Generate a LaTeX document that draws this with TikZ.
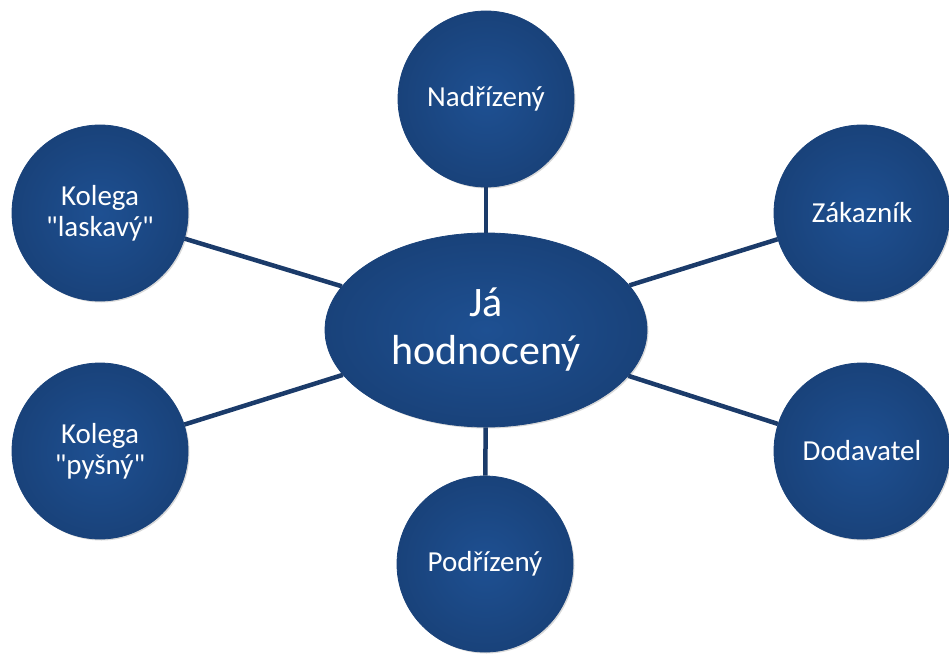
\documentclass[tikz,border=0pt]{standalone}
\usepackage{fontspec}
\setmainfont{Carlito}
\usepackage{tikz}
\usepackage{xcolor}
\usetikzlibrary{shapes.geometric,shadows}
\definecolor{nodeblue}{RGB}{30,80,146}
\definecolor{nodeblue-rim}{RGB}{25,66,122}
\definecolor{linkblue}{RGB}{27,59,106}
\tikzset{
    person-circle/.style = {circle, minimum size=176pt, inner sep=0pt, draw=nodeblue-rim, line width=0.8pt,
        inner color=nodeblue, outer color=nodeblue-rim, text=white, align=center,
        font=\fontsize{29}{31}\selectfont,
        drop shadow={shadow xshift=1.5pt, shadow yshift=-1.5pt, opacity=0.3}},
    self-ellipse/.style = {ellipse, minimum width=322pt, minimum height=194pt, inner sep=0pt, draw=nodeblue-rim, line width=0.8pt,
        inner color=nodeblue, outer color=nodeblue-rim, text=white, align=center,
        font=\fontsize{42}{48}\selectfont,
        drop shadow={shadow xshift=1.5pt, shadow yshift=-1.5pt, opacity=0.3}},
    link-line/.style = {draw=linkblue, line width=4.5pt},
}
\begin{document}
\begin{tikzpicture}[x=1pt, y=-1pt]
\useasboundingbox (0,0) rectangle (949,655);
\node [self-ellipse] (self) at (486,330) {Já\\hodnocený};
\node [person-circle] (boss) at (486,99) {Nadřízený};
\node [person-circle] (subordinate) at (485,564) {Podřízený};
\node [person-circle] (kind-colleague) at (100,213) {Kolega\\\textquotedbl laskavý\textquotedbl};
\node [person-circle] (proud-colleague) at (100,451) {Kolega\\\textquotedbl pyšný\textquotedbl};
\node [person-circle] (customer) at (862,213) {Zákazník};
\node [person-circle] (supplier) at (862,451) {Dodavatel};
% connectors
\draw [link-line] (self) -- (boss);
\draw [link-line] (self) -- (subordinate);
\draw [link-line] (self) -- (kind-colleague);
\draw [link-line] (self) -- (proud-colleague);
\draw [link-line] (self) -- (customer);
\draw [link-line] (self) -- (supplier);
\end{tikzpicture}
\end{document}
